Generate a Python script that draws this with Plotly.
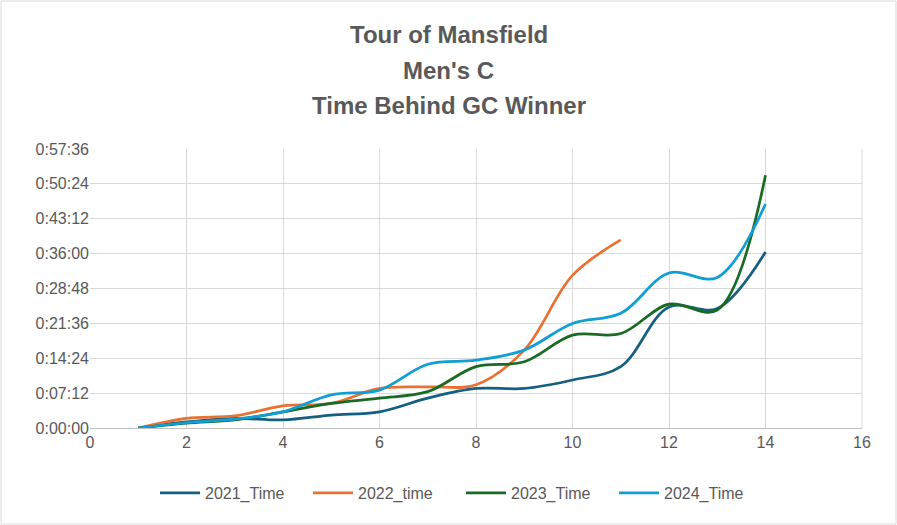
import plotly.graph_objects as go

stages = list(range(1, 15))
stages_2022 = list(range(1, 12))

time_2021 = ["0:00:00", "0:01:15", "0:02:00", "0:01:40", "0:02:40", "0:03:20", "0:06:10",
             "0:08:10", "0:08:10", "0:09:55", "0:12:40", "0:25:00", "0:24:40", "0:36:20"]
time_2022 = ["0:00:00", "0:02:00", "0:02:30", "0:04:35", "0:05:05", "0:08:10", "0:08:30",
             "0:08:55", "0:16:05", "0:31:30", "0:38:50"]
time_2023 = ["0:00:00", "0:01:00", "0:01:40", "0:03:20", "0:05:05", "0:06:10", "0:07:30",
             "0:12:40", "0:13:40", "0:19:10", "0:19:30", "0:25:35", "0:24:20", "0:52:10"]
time_2024 = ["0:00:00", "0:01:05", "0:01:50", "0:03:20", "0:06:50", "0:07:50", "0:13:10",
             "0:14:00", "0:16:05", "0:21:35", "0:23:40", "0:32:00", "0:31:05", "0:46:15"]

series_names = ["2021_Time", "2022_time", "2023_Time", "2024_Time"]
series_colors = ["#156082", "#E97132", "#196B24", "#0F9ED5"]

y_tick_labels = ["0:00:00", "0:07:12", "0:14:24", "0:21:36", "0:28:48",
                 "0:36:00", "0:43:12", "0:50:24", "0:57:36"]
x_tick_vals = [0, 2, 4, 6, 8, 10, 12, 14, 16]

title_lines = ["Tour of Mansfield", "Men's C", "Time Behind GC Winner"]


def to_sec(s):
    h, m, sec = s.split(":")
    return int(h) * 3600 + int(m) * 60 + int(sec)


fig = go.Figure()
for name, color, xs, ys in zip(series_names, series_colors,
                               [stages, stages_2022, stages, stages],
                               [time_2021, time_2022, time_2023, time_2024]):
    fig.add_trace(go.Scatter(
        x=xs, y=[to_sec(v) for v in ys], name=name, mode="lines",
        line=dict(color=color, width=2.75, shape="spline", smoothing=1.0),
    ))

font_family = "Liberation Sans, Arial, sans-serif"
W, H = 897, 525
ml, mr, mt, mb = 90, 35, 149, 97
pw, ph = W - ml - mr, H - mt - mb

annotations = []
for i, line in enumerate(title_lines):
    yc = 35 + 35 * i
    annotations.append(dict(
        text="<b>%s</b>" % line, xref="paper", yref="paper",
        x=(W / 2 - ml) / pw, y=1 + (mt - yc) / ph, xanchor="center", yanchor="middle",
        showarrow=False, font=dict(family=font_family, size=24, color="#595959"),
    ))

fig.update_layout(
    width=W, height=H,
    margin=dict(l=ml, r=mr, t=mt, b=mb),
    paper_bgcolor="white", plot_bgcolor="white",
    font=dict(family=font_family, size=16, color="#595959"),
    showlegend=True,
    legend=dict(orientation="h", x=(461 - ml) / pw, xanchor="center",
                y=-(493 - 428) / ph, yanchor="middle",
                font=dict(size=16, color="#595959"), itemwidth=40, traceorder="normal",
                entrywidth=98, entrywidthmode="pixels"),
    xaxis=dict(
        range=[0, 16], tickvals=x_tick_vals, ticktext=[str(v) for v in x_tick_vals],
        showgrid=True, gridcolor="#D9D9D9", gridwidth=1,
        showline=True, linecolor="#BFBFBF", linewidth=1, zeroline=False,
        mirror=False, ticks="", tickfont=dict(size=16, color="#595959"),
    ),
    yaxis=dict(
        range=[0, 3456], tickvals=[to_sec(v) for v in y_tick_labels], ticktext=y_tick_labels,
        showgrid=True, gridcolor="#D9D9D9", gridwidth=1,
        showline=False, zeroline=False, ticks="",
        tickfont=dict(size=16, color="#595959"),
    ),
    annotations=annotations,
    shapes=[
        dict(type="rect", xref="paper", yref="paper",
             x0=-(ml - 1) / pw, x1=1 + (mr - 1) / pw, y0=-(mb - 1) / ph, y1=1 + (mt - 1) / ph,
             line=dict(color="#D9D9D9", width=1), fillcolor="rgba(0,0,0,0)", layer="below"),
        dict(type="line", xref="paper", yref="paper", x0=1, x1=1, y0=0, y1=1,
             line=dict(color="#D9D9D9", width=1), layer="below"),
    ],
)

fig.write_html("out.html", config={"displayModeBar": False},
               post_script="document.body.style.margin='0';")
